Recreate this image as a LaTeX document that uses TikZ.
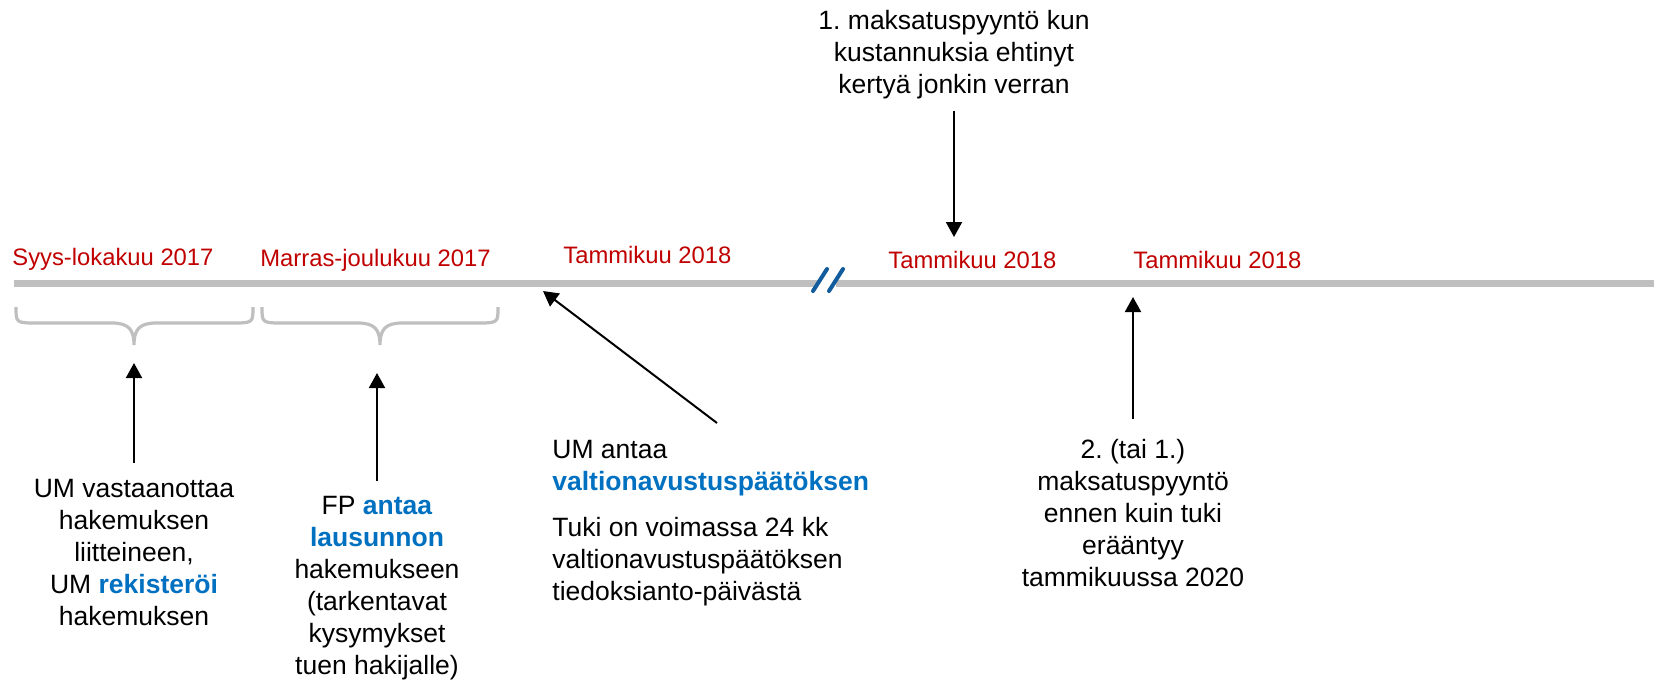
\documentclass[tikz,border=0pt]{standalone}
\usepackage{fontspec}
\setmainfont{Liberation Sans}
\usetikzlibrary{arrows.meta}
\definecolor{umblue}{RGB}{0,112,192}
\definecolor{datered}{RGB}{192,0,0}
\definecolor{linegray}{RGB}{191,191,191}
\definecolor{breakblue}{RGB}{18,92,158}
\frenchspacing

\begin{document}
\begin{tikzpicture}
	[x=0.5pt, y=-0.5pt,
	date/.style={anchor=base west, inner sep=0, text=datered, font=\fontsize{11.9pt}{14pt}\selectfont},
	note/.style={inner sep=0, align=center, font=\fontsize{13.25pt}{16pt}\selectfont},
	pointer/.style={draw=black, line width=1pt, -{Triangle[length=7.5pt,width=8pt]}},
	timeline/.style={draw=linegray, line width=3.5pt},
	brace/.style={draw=linegray, line width=1.6pt},
	breakmark/.style={draw=breakblue, line width=2pt, line cap=round}]
	\useasboundingbox (0,0) rectangle (1654,682);

	% time axis with break
	\coordinate (start) at (14,283.5);
	\coordinate (breakleft) at (818,283.5);
	\coordinate (breakright) at (836,283.5);
	\coordinate (end) at (1654,283.5);
	\draw [timeline] (start) -- (breakleft);
	\draw [timeline] (breakright) -- (end);
	\draw [breakmark] (813,291) -- (827,269);
	\draw [breakmark] (829,291) -- (843,269);

	% dates
	\node [date] (syyslokakuu) at (12,265.5) {Syys-lokakuu 2017};
	\node [date] (marrasjoulukuu) at (260,266.5) {Marras-joulukuu 2017};
	\node [date] (tammikuu1) at (563,263.5) {Tammikuu 2018};
	\node [date] (tammikuu2) at (888,268) {Tammikuu 2018};
	\node [date] (tammikuu3) at (1133,268) {Tammikuu 2018};

	% braces
	\foreach \xa/\xm/\xb/\tip in {16/134/253/brace1tip, 262/380/498/brace2tip}
	{
		\draw [brace] (\xa,307) .. controls (\xa,323) and (\xa,323) .. (\xa+22,323)
			-- (\xm-22,323) .. controls (\xm-5,323) and (\xm,330) .. (\xm,345)
			.. controls (\xm,330) and (\xm+5,323) .. (\xm+22,323)
			-- (\xb-22,323) .. controls (\xb,323) and (\xb,323) .. (\xb,307);
		\coordinate (\tip) at (\xm,345);
	}

	% notes
	\node [note, anchor=north] (vastaanotto) at (134,479)
		{UM vastaanottaa\\hakemuksen\\liitteineen,\\UM \textcolor{umblue}{\textbf{rekisteröi}}\\hakemuksen};
	\node [note, anchor=north] (lausunto) at (377,496)
		{FP \textcolor{umblue}{\textbf{antaa}}\\\textcolor{umblue}{\textbf{lausunnon}}\\hakemukseen\\(tarkentavat\\kysymykset\\tuen hakijalle)};
	\node [note, anchor=north west, align=left] (paatos) at (552,440)
		{UM antaa\\\textcolor{umblue}{\textbf{valtionavustuspäätöksen}}\\[7pt]Tuki on voimassa 24 kk\\valtionavustuspäätöksen\\tiedoksianto-päivästä};
	\node [note, anchor=north] (maksatus1) at (954,10)
		{1. maksatuspyyntö kun\\kustannuksia ehtinyt\\kertyä jonkin verran};
	\node [note, anchor=north] (maksatus2) at (1133,439)
		{2. (tai 1.)\\maksatuspyyntö\\ennen kuin tuki\\erääntyy\\tammikuussa 2020};

	% pointers
	\coordinate (paatostip) at (543,291);
	\coordinate (maksatus1tip) at (954,237);
	\coordinate (maksatus2tip) at (1133,297);
	\draw [pointer, shorten <=8pt, shorten >=9pt] (vastaanotto.north) -- (vastaanotto.north |- brace1tip);
	\draw [pointer, shorten <=7.5pt, shorten >=14pt] (lausunto.north) -- (lausunto.north |- brace2tip);
	\draw [pointer] ([xshift=82.5pt,yshift=8.5pt]paatos.north west) -- (paatostip);
	\draw [pointer, shorten <=5.5pt] (maksatus1.south) -- (maksatus1tip);
	\draw [pointer, shorten <=10pt] (maksatus2.north) -- (maksatus2tip);
\end{tikzpicture}
\end{document}
